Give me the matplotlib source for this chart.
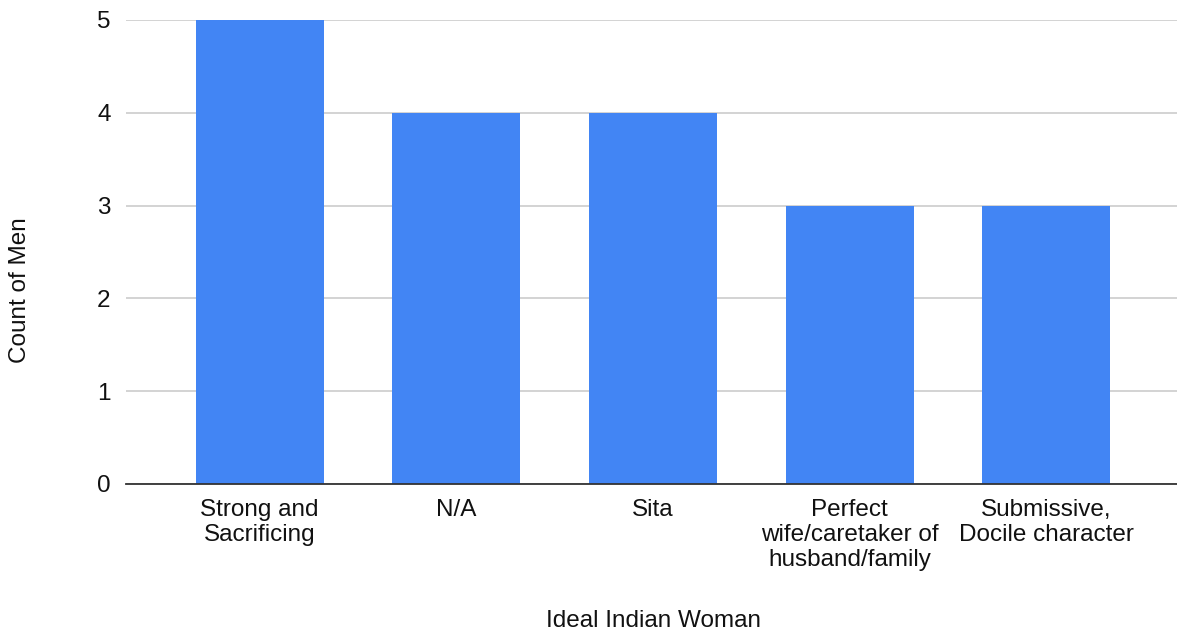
import matplotlib
matplotlib.use("Agg")
import matplotlib.pyplot as plt

categories = ["Strong and\nSacrificing", "N/A", "Sita",
              "Perfect\nwife/caretaker of\nhusband/family",
              "Submissive,\nDocile character"]
counts = [5, 4, 4, 3, 3]
yticks = [0, 1, 2, 3, 4, 5]

plt.rcParams['font.family'] = ['Liberation Sans', 'DejaVu Sans']
FS = 17.5

fig = plt.figure(figsize=(11.77, 6.37), dpi=100)
ax = fig.add_axes([126/1177, 1 - 484/637, 1 - 126/1177, (484 - 20)/637])

x = list(range(len(categories)))
ax.bar(x, counts, width=0.65, color="#4285F4", zorder=3)
ax.set_xlim(-0.68, 4.665)
ax.set_ylim(0, 5)
ax.set_yticks(yticks)
ax.set_yticklabels([str(v) for v in yticks], fontsize=FS)
ax.set_xticks(x)
ax.set_xticklabels(categories, fontsize=FS, linespacing=1.17)
ax.grid(axis="y", color="#cccccc", linewidth=1.2, zorder=0)
for s in ["top", "right", "left"]:
    ax.spines[s].set_visible(False)
ax.spines["bottom"].set_color("#333333")
ax.spines["bottom"].set_linewidth(1.3)
ax.spines["bottom"].set_zorder(4)
ax.tick_params(axis="x", length=0, pad=11, colors="#111111")
ax.tick_params(axis="y", length=0, pad=11, colors="#111111")
fig.text(20/1177, 1 - 290/637, "Count of Men", fontsize=FS, rotation=90,
         ha="center", va="center", color="#111111")
fig.text(653/1177, 1 - 621/637, "Ideal Indian Woman", fontsize=FS,
         ha="center", va="center", color="#111111")

fig.savefig("out.png", dpi=100)
